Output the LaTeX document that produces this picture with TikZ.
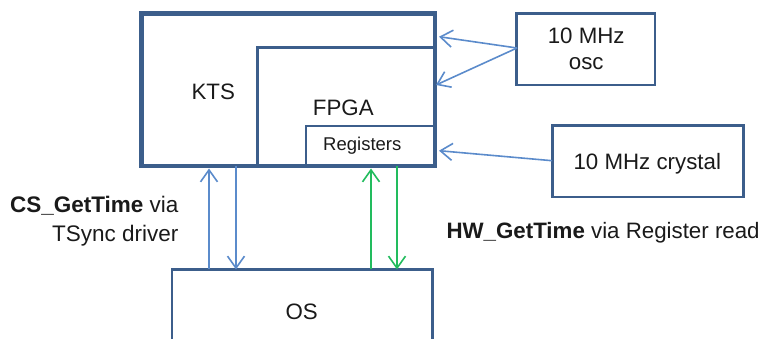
\documentclass[tikz,border=0pt]{standalone}
\usepackage{fontspec}
\setmainfont{Liberation Sans}
\usetikzlibrary{arrows.meta, positioning}
\definecolor{frame}{HTML}{3C5E8B}
\definecolor{wire}{HTML}{5B8BCB}
\definecolor{reg}{HTML}{22BC5E}
\definecolor{ink}{HTML}{1A1A1A}

\begin{document}
\begin{tikzpicture}[
    x=1pt, y=-1pt,
    every node/.style={font=\fontsize{22.3}{26}\selectfont, text=ink},
    box/.style={draw=frame, rectangle, inner sep=0pt, outer sep=0pt},
    small/.style={font=\fontsize{18.5}{22}\selectfont, text=ink},
    link/.style={wire, line width=1.6pt, -{Straight Barb[length=12pt, width=17pt]}},
    greenlink/.style={reg, line width=1.6pt, -{Straight Barb[length=12pt, width=17pt]}},
]
\useasboundingbox (0,0) rectangle (766,339);

% ---------------------------------------------------------------- boxes
\node[box, line width=4.5pt, minimum width=293.5pt, minimum height=152.5pt]
    (kts) at (288.25, 89.75) {};
\node[box, line width=3pt, minimum width=177pt, minimum height=118pt]
    (fpga) at (345.5, 107) {};
\node[box, line width=1.2pt, minimum width=129pt, minimum height=40pt]
    (regs) at (370.5, 146) {};
\node[box, line width=2.5pt, minimum width=138.5pt, minimum height=71.7pt]
    (osc) at (585.75, 49.15) {};
\node[box, line width=2.5pt, minimum width=191.2pt, minimum height=71.3pt]
    (xtal) at (647.9, 161.35) {};
\node[box, line width=2.5pt, minimum width=260.7pt, minimum height=84.4pt]
    (os) at (302.35, 311.7) {};

% box texts
\node (ktstext) at (213.3, 91.7) {KTS};
\node (fpgatext) at (343.3, 108.3) {FPGA};
\node[small] (regstext) at (362.3, 145.7) {Registers};
\node[align=center] (osctext) at (586.2, 48.4) {10 MHz\\osc};
\node (xtaltext) at (647.3, 163.3) {10 MHz crystal};
\node (ostext) at (301.7, 311.7) {OS};

% ---------------------------------------------------------------- clocks in
\coordinate (oscout) at (517, 48);
\coordinate (xtalout) at (552, 160.7);
\coordinate (oscin1) at (439, 36.7);
\coordinate (oscin2) at (436, 85);
\coordinate (xtalin) at (439, 150.7);
\draw[link] (oscout) -- (oscin1);
\draw[link] (oscout) -- (oscin2);
\draw[link] (xtalout) -- (xtalin);

% ---------------------------------------------------------------- OS calls
\coordinate (csup) at (209, 0);
\coordinate (csdown) at (236, 0);
\coordinate (hwup) at (371, 0);
\coordinate (hwdown) at (397, 0);
\draw[link, shorten >=2.5pt] (os.north -| csup) -- (kts.south -| csup);
\draw[link] (kts.south -| csdown) -- (os.north -| csdown);
\draw[greenlink, shorten >=2.5pt] (os.north -| hwup) -- (kts.south -| hwup);
\draw[greenlink] (kts.south -| hwdown) -- (os.north -| hwdown);

\node[anchor=east, align=right, font=\fontsize{22.5}{28.5}\selectfont] (cslabel)
    at (182, 221) {\textbf{CS\_GetTime} via\\TSync driver};
\node[anchor=west] (hwlabel) at (443, 233)
    {\textbf{HW\_GetTime} via Register read};

\end{tikzpicture}
\end{document}
